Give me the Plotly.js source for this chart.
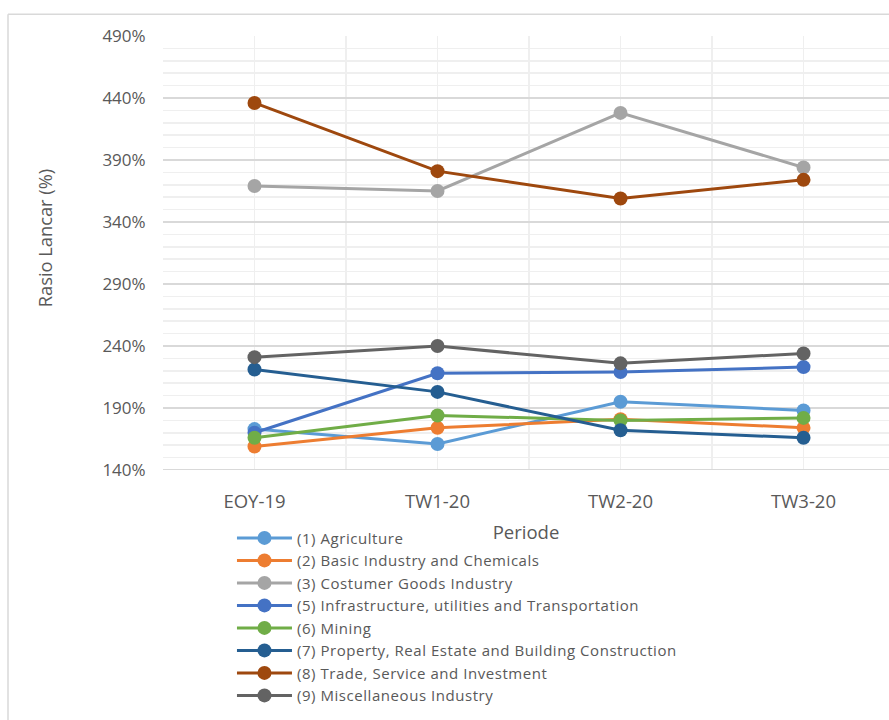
<!DOCTYPE html>
<html>
<head>
<meta charset="utf-8">
<script src="https://cdn.plot.ly/plotly-3.0.1.min.js"></script>
<style>
  html, body { margin: 0; padding: 0; background: #ffffff; }
  #chart { width: 889px; height: 720px; }
  #chart .legendtext { letter-spacing: 0.55px; }
  #chart .legend .scrollbox { clip-path: none !important; }
</style>
</head>
<body>
<div id="chart"></div>
<script>
// Periods on the horizontal axis
const periods = ['EOY-19', 'TW1-20', 'TW2-20', 'TW3-20'];

// Current ratio (%) per sector
const agriculture    = [173, 161, 195, 188];
const basicIndustry  = [159, 174, 181, 174];
const consumerGoods  = [369, 365, 428, 384];
const infrastructure = [170, 218, 219, 223];
const mining         = [166, 184, 180, 182];
const property       = [221, 203, 172, 166];
const trade          = [436, 381, 359, 374];
const miscellaneous  = [231, 240, 226, 234];

const sectorNames = [
  '(1) Agriculture',
  '(2) Basic Industry and Chemicals',
  '(3) Costumer Goods Industry',
  '(5) Infrastructure, utilities and Transportation',
  '(6) Mining',
  '(7) Property, Real Estate and Building Construction',
  '(8) Trade, Service and Investment',
  '(9) Miscellaneous Industry'
];
const sectorValues = [agriculture, basicIndustry, consumerGoods, infrastructure,
                      mining, property, trade, miscellaneous];
const sectorColors = ['#5B9BD5', '#ED7D31', '#A5A5A5', '#4472C4',
                      '#70AD47', '#255E91', '#9E480E', '#636363'];

const xIndex = periods.map((_, i) => i);

const traces = sectorNames.map((name, k) => ({
  type: 'scatter',
  mode: 'lines+markers',
  name: name,
  x: xIndex,
  y: sectorValues[k],
  line: { color: sectorColors[k], width: 3 },
  marker: { color: sectorColors[k], size: 14 },
  hoverinfo: 'x+y+name'
}));

const FONT = 'Open Sans, sans-serif';
const TXT = '#595959';

const layout = {
  width: 889,
  height: 720,
  margin: { l: 163, r: 0, t: 36, b: 250 },
  paper_bgcolor: '#ffffff',
  plot_bgcolor: '#ffffff',
  font: { family: FONT, color: TXT, size: 15 },
  showlegend: true,
  xaxis: {
    range: [-0.5, 3.467],
    tickvals: xIndex,
    ticktext: periods,
    showgrid: true,
    gridcolor: '#efefef',
    gridwidth: 1.5,
    minor: { dtick: 0.5, tick0: 0.5, showgrid: true, gridcolor: '#efefef', gridwidth: 1.5 },
    zeroline: false,
    showline: false,
    ticks: 'outside',
    ticklen: 15,
    tickcolor: 'rgba(0,0,0,0)',
    tickfont: { family: FONT, size: 18.5, color: TXT },
    title: { text: 'Periode', font: { family: FONT, size: 18.5, color: TXT }, standoff: 13 },
    fixedrange: true
  },
  yaxis: {
    range: [140, 490],
    tick0: 140,
    dtick: 50,
    ticksuffix: '%',
    showgrid: true,
    gridcolor: '#d9d9d9',
    gridwidth: 2,
    minor: { dtick: 10, showgrid: true, gridcolor: '#efefef', gridwidth: 1.5 },
    zeroline: false,
    showline: false,
    ticks: 'outside',
    ticklen: 13,
    tickcolor: 'rgba(0,0,0,0)',
    tickfont: { family: FONT, size: 17, color: TXT },
    fixedrange: true
  },
  legend: {
    x: 0.095,
    xanchor: 'left',
    y: -0.119,
    yanchor: 'top',
    orientation: 'v',
    itemwidth: 55,
    font: { family: FONT, size: 15, color: TXT },
    bgcolor: 'rgba(0,0,0,0)',
    tracegroupgap: 0
  },
  annotations: [{
    text: 'Rasio Lancar (%)',
    xref: 'paper', yref: 'paper',
    x: (44 - 163) / 726, y: 0.534,
    xanchor: 'center', yanchor: 'middle',
    textangle: -90,
    showarrow: false,
    font: { family: FONT, size: 18.3, color: TXT }
  }],
  shapes: [
    // chart frame
    { type: 'line', xref: 'paper', yref: 'paper', x0: -0.2135, x1: 1.1, y0: 1.05, y1: 1.05,
      line: { color: '#d9d9d9', width: 1.5 } },
    { type: 'line', xref: 'paper', yref: 'paper', x0: -0.2135, x1: -0.2135, y0: 1.05, y1: -0.7,
      line: { color: '#d9d9d9', width: 1.5 } },
    // category axis line
    { type: 'line', xref: 'paper', yref: 'y', x0: 0, x1: 1, y0: 140, y1: 140, layer: 'above',
      line: { color: '#d9d9d9', width: 2 } }
  ]
};

Plotly.newPlot('chart', traces, layout, { displayModeBar: false, staticPlot: true });
</script>
</body>
</html>
